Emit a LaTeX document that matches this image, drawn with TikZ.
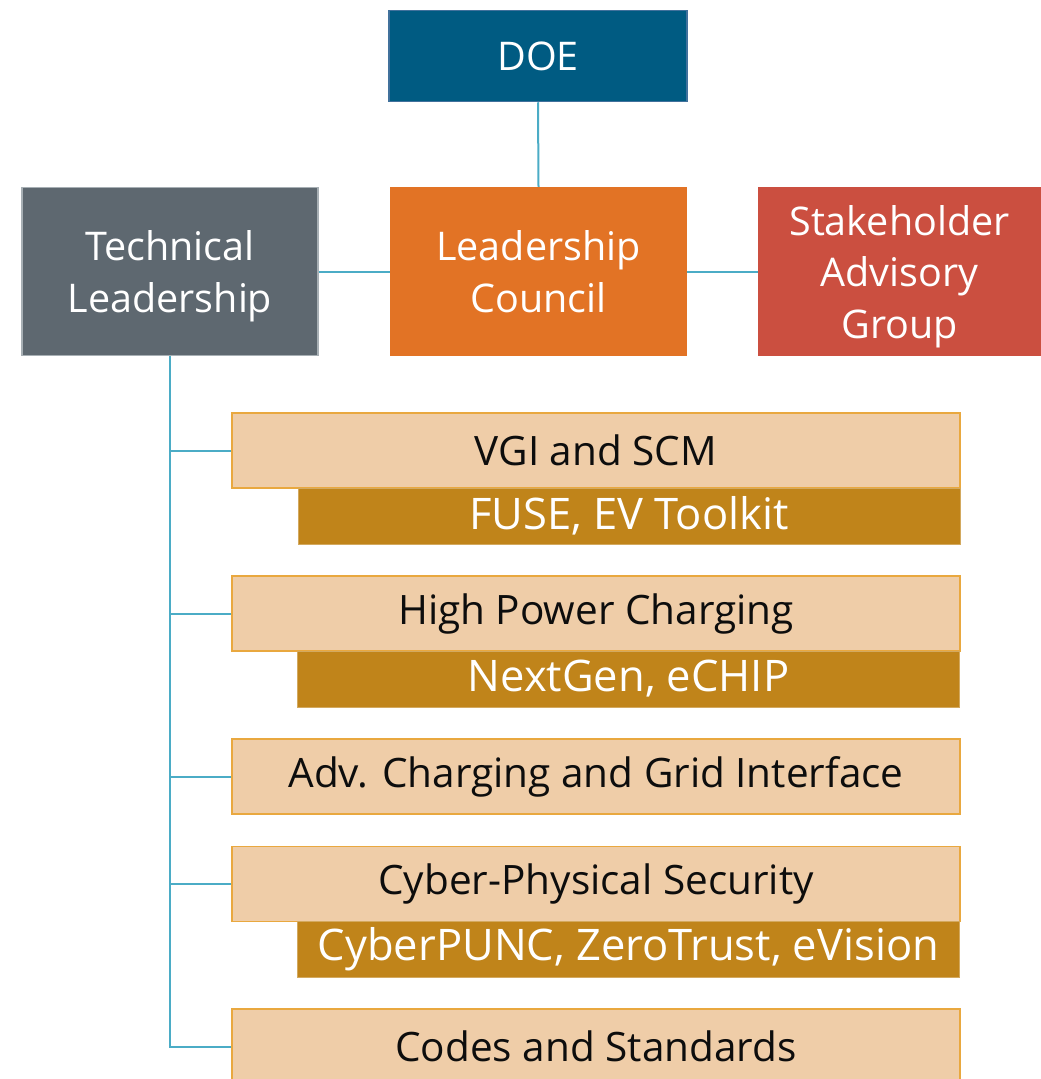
\documentclass[tikz,border=0pt]{standalone}
\usepackage{fontspec}
\setmainfont{Open Sans}
\usetikzlibrary{positioning}
\usetikzlibrary{calc}
\definecolor{doeblue}{HTML}{005B82}
\definecolor{doeedge}{HTML}{41719C}
\definecolor{techgray}{HTML}{5E6870}
\definecolor{techedge}{HTML}{A7AFB4}
\definecolor{councilorange}{HTML}{E27325}
\definecolor{advisoryred}{HTML}{CB4F40}
\definecolor{taskfill}{HTML}{EFCDA8}
\definecolor{taskedge}{HTML}{E9A83F}
\definecolor{projfill}{HTML}{C0841A}
\definecolor{linkteal}{HTML}{4BACC6}

\begin{document}
\begin{tikzpicture}[x=1pt, y=-1pt,
		box/.style={rectangle, inner sep=0pt, align=center, font=\fontsize{39.5}{51.5}\selectfont},
		doebox/.style={box, fill=doeblue, draw=doeedge, line width=1.5pt, text=white, minimum width=298pt, minimum height=91pt},
		headbox/.style={box, text=white, minimum width=297pt, minimum height=169pt, text depth=0pt},
		taskbox/.style={box, fill=taskfill, draw=taskedge, line width=1.5pt, text=black!95, minimum width=728pt, minimum height=75pt, font=\fontsize{40.5}{50}\selectfont},
		projbox/.style={box, fill=projfill, draw=projfill!70!white, line width=0.8pt, text=white, minimum width=662pt, minimum height=56pt, font=\fontsize{43.5}{50}\selectfont},
		link/.style={draw=linkteal, line width=2pt}
		]
		
		\clip (0,0) rectangle (1041,1079);
		
		% top row
		\node[doebox] (doe) at (538, 56) {DOE};
		\node[headbox, fill=councilorange, text depth=-6pt] (lc) at (538.5, 271.5) {Leadership\\Council};
		\node[headbox, fill=techgray, draw=techedge, line width=1.5pt, minimum width=296pt, minimum height=168pt] (tl) at (170, 271.5) {Technical\\Leadership};
		\node[headbox, fill=advisoryred, minimum width=283pt] (sag) at (899.5, 271.5) {Stakeholder\\Advisory\\Group};
		
		\draw[link] (doe.south) to (lc.north);
		\draw[link] (tl.east) to (lc.west);
		\draw[link] (lc.east) to (sag.west);
		
		% task areas
		\node[taskbox] (t1) at (596, 450.5) {VGI and SCM};
		\node[taskbox] (t2) at (596, 613.5) {High Power Charging};
		\node[taskbox] (t3) at (596, 776.5) {Adv. Charging and Grid Interface};
		\node[taskbox] (t4) at (596, 884) {Cyber-Physical Security};
		\node[taskbox] (t5) at (596, 1046.5) {Codes and Standards};
		
		\node[projbox] (p1) at (629, 516) {FUSE, EV Toolkit};
		\node[projbox] (p2) at (628.5, 679) {NextGen, eCHIP};
		\node[projbox] (p4) at (628.5, 949) {CyberPUNC, ZeroTrust, eVision};
		
		\draw[link] (tl.south) |- (t5.west);
		\foreach \step in {1,...,4} {
			\draw[link] (tl.south |- t\step.west) to (t\step.west);
		}
\end{tikzpicture}
\end{document}
